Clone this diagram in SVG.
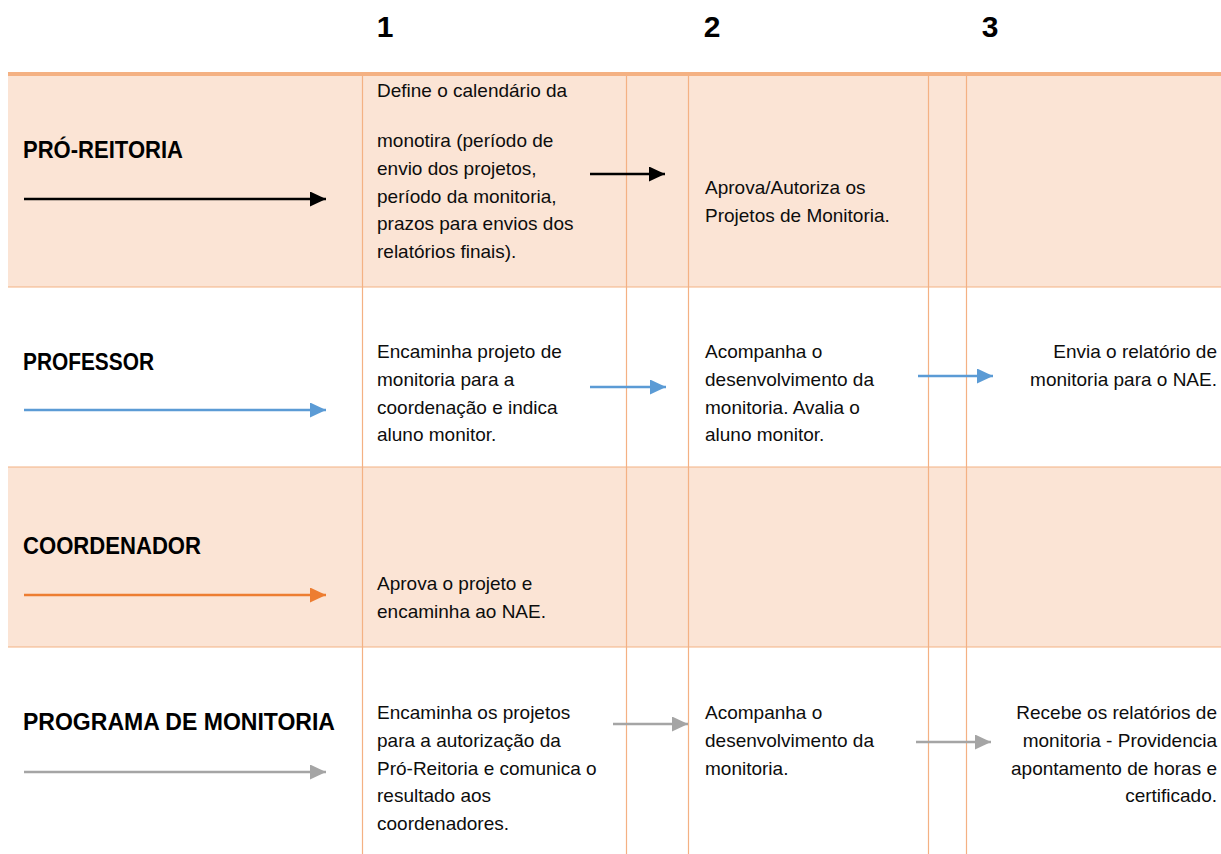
<svg xmlns="http://www.w3.org/2000/svg" width="1221" height="854" viewBox="0 0 1221 854">
<defs>
<style>
.fill{fill:#FBE4D5}
.grid{stroke:#F4B183;stroke-width:1.2;fill:none}
.top{stroke:#F4B183;stroke-width:4}
.hdr{font-family:"Liberation Sans",Arial,sans-serif;font-weight:bold;font-size:30px;fill:#000;text-anchor:middle}
.lbl{font-family:"Liberation Sans",Arial,sans-serif;font-weight:bold;font-size:24px;fill:#000}
.txt{font-family:"Liberation Sans",Arial,sans-serif;font-size:19px;fill:#0d0d0d}
.r{text-anchor:end}
.a{stroke-width:2.6;fill:none}
</style>
<marker id="mk" viewBox="0 0 16 15" refX="16" refY="7.5" markerUnits="userSpaceOnUse" markerWidth="16" markerHeight="15" orient="auto"><path d="M0,0 L16,7.5 L0,15 Z" fill="#000"/></marker>
<marker id="mb" viewBox="0 0 16 15" refX="16" refY="7.5" markerUnits="userSpaceOnUse" markerWidth="16" markerHeight="15" orient="auto"><path d="M0,0 L16,7.5 L0,15 Z" fill="#5B9BD5"/></marker>
<marker id="mo" viewBox="0 0 16 15" refX="16" refY="7.5" markerUnits="userSpaceOnUse" markerWidth="16" markerHeight="15" orient="auto"><path d="M0,0 L16,7.5 L0,15 Z" fill="#ED7D31"/></marker>
<marker id="mg" viewBox="0 0 16 15" refX="16" refY="7.5" markerUnits="userSpaceOnUse" markerWidth="16" markerHeight="15" orient="auto"><path d="M0,0 L16,7.5 L0,15 Z" fill="#A5A5A5"/></marker>
</defs>
<rect width="1221" height="854" fill="#fff"/>
<g id="background">
<rect class="fill" x="8" y="74" width="1213" height="213"/>
<rect class="fill" x="8" y="467" width="1213" height="180"/>
</g>
<g id="grid">
<line class="grid" x1="8" y1="287" x2="1221" y2="287"/>
<line class="grid" x1="8" y1="467" x2="1221" y2="467"/>
<line class="grid" x1="8" y1="647" x2="1221" y2="647"/>
<line class="grid" x1="362.5" y1="76" x2="362.5" y2="854"/>
<line class="grid" x1="626.5" y1="76" x2="626.5" y2="854"/>
<line class="grid" x1="688.5" y1="76" x2="688.5" y2="854"/>
<line class="grid" x1="928.5" y1="76" x2="928.5" y2="854"/>
<line class="grid" x1="966.5" y1="76" x2="966.5" y2="854"/>
<line class="top" x1="8" y1="74" x2="1221" y2="74"/>
</g>
<g id="header">
<text class="hdr" x="385" y="37">1</text>
<text class="hdr" x="712" y="37">2</text>
<text class="hdr" x="990" y="37">3</text>
</g>
<g id="lane-pro-reitoria">
<text class="lbl" x="23" y="158" textLength="160" lengthAdjust="spacingAndGlyphs">PRÓ-REITORIA</text>
</g>
<g id="lane-professor">
<text class="lbl" x="23" y="370" textLength="131" lengthAdjust="spacingAndGlyphs">PROFESSOR</text>
</g>
<g id="lane-coordenador">
<text class="lbl" x="23" y="554" textLength="178" lengthAdjust="spacingAndGlyphs">COORDENADOR</text>
</g>
<g id="lane-programa">
<text class="lbl" x="23" y="730" textLength="312" lengthAdjust="spacingAndGlyphs">PROGRAMA DE MONITORIA</text>
</g>
<g id="cell-pr-1">
<text class="txt" x="377" y="97">Define o calendário da</text>
<text class="txt" x="377" y="147">monotira (período de</text>
<text class="txt" x="377" y="175">envio dos projetos,</text>
<text class="txt" x="377" y="203">período da monitoria,</text>
<text class="txt" x="377" y="230">prazos para envios dos</text>
<text class="txt" x="377" y="258">relatórios finais).</text>
</g>
<g id="cell-pr-2">
<text class="txt" x="705" y="194">Aprova/Autoriza os</text>
<text class="txt" x="705" y="222">Projetos de Monitoria.</text>
</g>
<g id="cell-prof-1">
<text class="txt" x="377" y="358">Encaminha projeto de</text>
<text class="txt" x="377" y="386">monitoria para a</text>
<text class="txt" x="377" y="414">coordenação e indica</text>
<text class="txt" x="377" y="441">aluno monitor.</text>
</g>
<g id="cell-prof-2">
<text class="txt" x="705" y="358">Acompanha o</text>
<text class="txt" x="705" y="386">desenvolvimento da</text>
<text class="txt" x="705" y="414">monitoria. Avalia o</text>
<text class="txt" x="705" y="441">aluno monitor.</text>
</g>
<g id="cell-prof-3">
<text class="txt r" x="1217" y="358">Envia o relatório de</text>
<text class="txt r" x="1217" y="386">monitoria para o NAE.</text>
</g>
<g id="cell-coord-1">
<text class="txt" x="377" y="590">Aprova o projeto e</text>
<text class="txt" x="377" y="618">encaminha ao NAE.</text>
</g>
<g id="cell-prog-1">
<text class="txt" x="377" y="719">Encaminha os projetos</text>
<text class="txt" x="377" y="747">para a autorização da</text>
<text class="txt" x="377" y="775">Pró-Reitoria e comunica o</text>
<text class="txt" x="377" y="802">resultado aos</text>
<text class="txt" x="377" y="830">coordenadores.</text>
</g>
<g id="cell-prog-2">
<text class="txt" x="705" y="719">Acompanha o</text>
<text class="txt" x="705" y="747">desenvolvimento da</text>
<text class="txt" x="705" y="775">monitoria.</text>
</g>
<g id="cell-prog-3">
<text class="txt r" x="1217" y="719">Recebe os relatórios de</text>
<text class="txt r" x="1217" y="747">monitoria - Providencia</text>
<text class="txt r" x="1217" y="775">apontamento de horas e</text>
<text class="txt r" x="1217" y="802">certificado.</text>
</g>
<g id="connectors">
<line class="a" x1="24" y1="199" x2="326" y2="199" stroke="#000" marker-end="url(#mk)"/>
<line class="a" x1="24" y1="410" x2="326" y2="410" stroke="#5B9BD5" marker-end="url(#mb)"/>
<line class="a" x1="24" y1="595" x2="326" y2="595" stroke="#ED7D31" marker-end="url(#mo)"/>
<line class="a" x1="24" y1="772" x2="326" y2="772" stroke="#A5A5A5" marker-end="url(#mg)"/>
<line class="a" x1="590" y1="174" x2="665" y2="174" stroke="#000" marker-end="url(#mk)"/>
<line class="a" x1="590" y1="387" x2="666" y2="387" stroke="#5B9BD5" marker-end="url(#mb)"/>
<line class="a" x1="918" y1="376" x2="993" y2="376" stroke="#5B9BD5" marker-end="url(#mb)"/>
<line class="a" x1="613" y1="724" x2="688" y2="724" stroke="#A5A5A5" marker-end="url(#mg)"/>
<line class="a" x1="916" y1="742" x2="991" y2="742" stroke="#A5A5A5" marker-end="url(#mg)"/>
</g>
</svg>
